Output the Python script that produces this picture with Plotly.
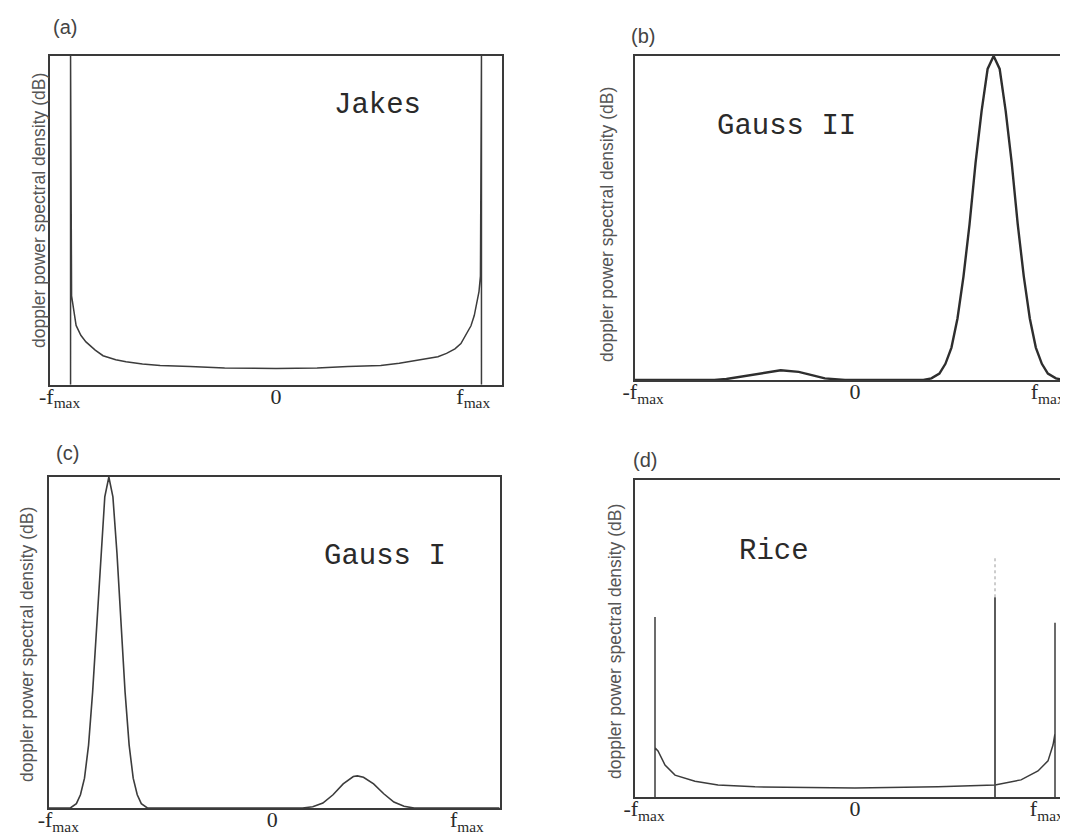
import plotly.graph_objects as go

# ---------------- data (x in units of f_max, y in % of plot height) ----------
tick_vals = [-1, 0, 1]
tick_text = ["-f<sub>max</sub>", "0", "f<sub>max</sub>"]

# (a) Jakes
jakes_x = [-1, -1, -0.995, -0.988, -0.973, -0.95, -0.925, -0.88, -0.842, -0.78, -0.73,
           -0.65, -0.564, -0.418, -0.25, 0, 0.2, 0.35, 0.51, 0.6, 0.676, 0.74, 0.788,
           0.83, 0.871, 0.90, 0.92, 0.94, 0.949, 0.965, 0.973, 0.988, 0.995, 1, 1]
jakes_y = [0, 100, 27, 24, 18, 15, 13, 10.5, 8.8, 7.6, 7, 6.3, 5.8, 5.5, 5.1, 4.9, 5.1,
           5.5, 5.8, 6.5, 7.3, 8, 8.5, 9.5, 10.9, 12.5, 14.6, 16.8, 17.9, 21, 24, 28.3,
           33, 100, 0]

# (b) Gauss II
gauss2_x = [-1.1, -0.7, -0.64, -0.55, -0.45, -0.37, -0.28, -0.2, -0.15, -0.05, 0.3,
            0.34, 0.38, 0.42, 0.45, 0.48, 0.51, 0.54, 0.57, 0.60, 0.63, 0.66, 0.69,
            0.72, 0.75, 0.78, 0.81, 0.84, 0.87, 0.90, 0.93, 0.96, 1.00, 1.04, 1.08]
gauss2_y = [0, 0, 0.3, 1.2, 2.4, 3.0, 2.5, 1.3, 0.5, 0, 0,
            0, 0.5, 2, 5, 10, 19, 32, 48, 67, 83, 96, 100,
            96, 83, 67, 48, 32, 19, 10, 5, 2, 0.5, 0, 0]

# (c) Gauss I
gauss1_x = [-1.1, -0.995, -0.965, -0.945, -0.925, -0.905, -0.885, -0.865, -0.845,
            -0.825, -0.805, -0.785, -0.765, -0.745, -0.725, -0.705, -0.685, -0.665,
            -0.645, -0.615, 0.15, 0.2, 0.25, 0.3, 0.35, 0.4, 0.42, 0.45, 0.5, 0.55,
            0.6, 0.65, 0.7, 1.12]
gauss1_y = [0, 0, 1.3, 4, 9, 19, 35, 55, 77, 94, 100, 94, 77, 55, 35, 19, 9, 4, 1.3,
            0, 0, 0.4, 1.5, 4, 7.3, 9.5, 9.7, 9.3, 7.3, 4.3, 1.8, 0.5, 0, 0]

# (d) Rice
rice_x = [-1, -1, -1, -0.985, -0.95, -0.90, -0.80, -0.685, -0.50, 0, 0.415, 0.70,
          0.83, 0.915, 0.965, 0.99, 1, 1, 1]
rice_y = [0, 56.8, 15.5, 14.5, 10.1, 6.9, 5.0, 3.8, 3.2, 2.8, 3.2, 3.8, 5.4, 8.2,
          11.4, 16.4, 20, 55, 0]
los_x = [0.7, 0.7]
los_y = [0, 63]
los_top_y = [63, 76]

panel_labels = ["(a)", "(b)", "(c)", "(d)"]
curve_names = ["Jakes", "Gauss II", "Gauss I", "Rice"]
y_title = "doppler power spectral density (dB)"

# ---------------- layout helpers ----------------
W, H = 1068, 838


def px(x):
    return x / W


def py(y):
    return 1 - y / H


boxes = {  # left, right, top, bottom in pixels
    1: (41.6, 494, 47.5, 376.7),
    2: (626.6, 1064, 48, 372),
    3: (41, 492, 469, 800),
    4: (627, 1066, 472, 789),
}
xranges = {1: [-1.102, 1.10], 2: [-1.097, 1.08], 3: [-1.10, 1.123], 4: [-1.10, 1.095]}

# pad labels on the right so their visual centre sits a little left of the tick
pad = ["&nbsp;" * 4, "", "&nbsp;" * 3]
tick_text_padded = [t + p for t, p in zip(tick_text, pad)]

line_col = "#333333"
fig = go.Figure()


def add(x, y, k, width=1.6, color=line_col, dash="solid"):
    fig.add_trace(go.Scatter(
        x=x, y=y, mode="lines", xaxis="x" if k == 1 else f"x{k}",
        yaxis="y" if k == 1 else f"y{k}",
        line=dict(color=color, width=width, dash=dash), showlegend=False,
        hoverinfo="skip"))


add(jakes_x, jakes_y, 1, 1.5, "#3c3c3c")
add(gauss2_x, gauss2_y, 2, 2.4, "#2e2e2e")
add(gauss1_x, gauss1_y, 3, 1.6, "#3c3c3c")
add(rice_x, rice_y, 4, 1.5, "#3c3c3c")
add(los_x, los_y, 4, 1.8, "#4a4a4a")
add(los_x, los_top_y, 4, 1.0, "#9a9a9a", "dot")

layout = dict(width=W, height=H, margin=dict(l=0, r=0, t=0, b=0, pad=0, autoexpand=False),
              paper_bgcolor="white", plot_bgcolor="white", showlegend=False)
axis_common = dict(showline=True, mirror=True, linecolor="#3a3a3a", linewidth=1.5,
                   showgrid=False, zeroline=False, automargin=False)
for k, (l, r, t, b) in boxes.items():
    sx = "" if k == 1 else str(k)
    layout["xaxis" + sx] = dict(
        axis_common, domain=[px(l), px(r)], range=xranges[k], anchor="y" + sx,
        tickmode="array", tickvals=tick_vals, ticktext=tick_text_padded, ticks="",
        ticklabelstandoff=-9, ticklabeloverflow="allow",
        tickfont=dict(family="Liberation Serif", size=22, color="#2a2a2a"))
    layout["yaxis" + sx] = dict(
        axis_common, domain=[py(b), py(t)], range=[0, 100], anchor="x" + sx,
        showticklabels=False, ticks="")
fig.update_layout(**layout)

# panel labels
plab_pos = [(43, 19), (621, 28), (46, 445), (623, 452)]
for txt, (x, y) in zip(panel_labels, plab_pos):
    fig.add_annotation(text=txt, x=px(x), y=py(y), xref="paper", yref="paper",
                       xanchor="left", yanchor="middle", showarrow=False,
                       font=dict(family="Liberation Sans", size=20, color="#444444"))

# curve names
name_pos = [(369, 98), (778, 118), (377, 548), (766, 543)]
for txt, (x, y) in zip(curve_names, name_pos):
    fig.add_annotation(text=txt, x=px(x), y=py(y), xref="paper", yref="paper",
                       xanchor="center", yanchor="middle", showarrow=False,
                       font=dict(family="Liberation Mono", size=29, color="#2a2a2a"))

# y-axis titles
yt_pos = [(31, 203), (599, 217), (19, 637), (607, 634)]
for (x, y) in yt_pos:
    fig.add_annotation(text=y_title, x=px(x), y=py(y), xref="paper", yref="paper",
                       xanchor="center", yanchor="middle", textangle=-90,
                       showarrow=False,
                       font=dict(family="Liberation Sans", size=17.5, color="#555555"))

fig.write_html("out.html")
